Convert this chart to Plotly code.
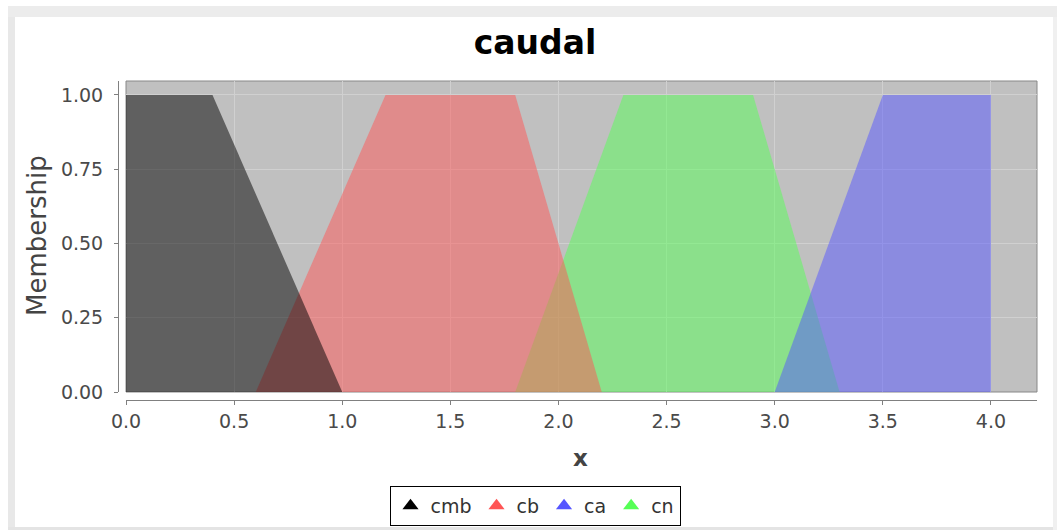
import plotly.graph_objects as go

# Membership functions of the linguistic variable "caudal" (breakpoints x, degree y)
names = ["cmb", "cb", "ca", "cn"]
colors = ["#000000", "#ff5555", "#5555ff", "#55ff55"]
fills = ["rgba(0,0,0,0.5)", "rgba(255,85,85,0.5)", "rgba(85,85,255,0.5)", "rgba(85,255,85,0.5)"]

cmb_x = [0.0, 0.0, 0.4, 1.0]
cmb_y = [0.0, 1.0, 1.0, 0.0]
cb_x = [0.6, 1.2, 1.8, 2.2]
cb_y = [0.0, 1.0, 1.0, 0.0]
ca_x = [3.0, 3.5, 4.0, 4.0]
ca_y = [0.0, 1.0, 1.0, 0.0]
cn_x = [1.8, 2.3, 2.9, 3.3]
cn_y = [0.0, 1.0, 1.0, 0.0]

x_ticks = [0.0, 0.5, 1.0, 1.5, 2.0, 2.5, 3.0, 3.5, 4.0]
y_ticks = [0.0, 0.25, 0.5, 0.75, 1.0]

series = {
    "cmb": (cmb_x, cmb_y),
    "cb": (cb_x, cb_y),
    "ca": (ca_x, ca_y),
    "cn": (cn_x, cn_y),
}

W, H = 1057, 530
# paper region in pixels (axis lines sit a few px outside the data area)
PX0, PX1, PY0, PY1 = 118, 1037, 81, 400


def px(p):
    return (p - PX0) / (PX1 - PX0)


def py(p):
    return (PY1 - p) / (PY1 - PY0)


fig = go.Figure()

# first series ends up on top, so draw in reverse order
for name in reversed(names):
    i = names.index(name)
    xs, ys = series[name]
    fig.add_trace(go.Scatter(
        x=xs, y=ys, fill="toself", fillcolor=fills[i], mode="lines",
        line=dict(width=0, color=fills[i]), showlegend=False, hoverinfo="skip",
    ))

# legend entries
for i, name in enumerate(names):
    fig.add_trace(go.Scatter(
        x=[None], y=[None], mode="markers", name=name, legendrank=i + 1,
        marker=dict(symbol="triangle-up", size=14, color=colors[i]),
    ))

font_family = "DejaVu Sans"
tick_font = dict(family=font_family, size=19, color="#4a4a4a")

fig.update_layout(
    width=W, height=H,
    margin=dict(l=PX0, r=W - PX1, t=PY0, b=H - PY1),
    paper_bgcolor="white",
    plot_bgcolor="white",
    title=dict(
        text="<b>caudal</b>", font=dict(family=font_family, size=33, color="black"),
        x=535 / W, xanchor="center", xref="container",
        y=1 - 42 / H, yanchor="middle", yref="container",
    ),
    xaxis=dict(
        domain=[px(126), 1.0], anchor="free", position=0.0,
        range=[0, 4.213], tickvals=x_ticks, ticktext=[f"{v:.1f}" for v in x_ticks],
        showline=True, linecolor="#808080", linewidth=1,
        ticks="outside", ticklen=4, tickcolor="#808080",
        showgrid=True, gridcolor="#d0d0d0", gridwidth=1, zeroline=False,
        tickfont=tick_font,
    ),
    yaxis=dict(
        domain=[py(392), 1.0], anchor="free", position=0.0,
        range=[0, 1.047], tickvals=y_ticks, ticktext=[f"{v:.2f}" for v in y_ticks],
        showline=True, linecolor="#808080", linewidth=1,
        ticks="outside", ticklen=4, tickcolor="#808080",
        showgrid=True, gridcolor="#d0d0d0", gridwidth=1, zeroline=False,
        tickfont=tick_font, ticklabelstandoff=7,
    ),
    legend=dict(
        orientation="h", x=535 / W, xanchor="center", xref="container",
        y=1 - 486 / H, yanchor="top", yref="container",
        bordercolor="black", borderwidth=1, bgcolor="white",
        font=dict(family=font_family, size=19, color="#333333"),
        itemwidth=30,
    ),
    hovermode=False,
    annotations=[
        dict(text="Membership", x=px(37), y=py(236), xref="paper", yref="paper",
             xanchor="center", yanchor="middle",
             textangle=-90, showarrow=False,
             font=dict(family=font_family, size=26, color="#444444")),
        dict(text="<b>x</b>", x=px(580), y=py(458), xref="paper", yref="paper",
             xanchor="center", yanchor="middle",
             showarrow=False, font=dict(family=font_family, size=23, color="#444444")),
    ],
    shapes=[
        # data area background and border
        dict(type="rect", xref="x domain", yref="y domain", x0=0, x1=1, y0=0, y1=1,
             fillcolor="#c0c0c0", line=dict(color="#888888", width=1), layer="below"),
        # window frame around the chart panel
        dict(type="rect", xref="paper", yref="paper", x0=px(8), x1=px(1057), y0=py(17), y1=py(6),
             fillcolor="#ececec", line=dict(width=0), layer="below"),
        dict(type="rect", xref="paper", yref="paper", x0=px(8), x1=px(15), y0=py(530), y1=py(17),
             fillcolor="#e8e8e8", line=dict(width=0), layer="below"),
        dict(type="rect", xref="paper", yref="paper", x0=px(8), x1=px(1057), y0=py(530), y1=py(527),
             fillcolor="#e4e4e4", line=dict(width=0), layer="below"),
        dict(type="rect", xref="paper", yref="paper", x0=px(1053), x1=px(1057), y0=py(530), y1=py(17),
             fillcolor="#f0f0f0", line=dict(width=0), layer="below"),
    ],
)

fig.write_html("out.html", config={"displayModeBar": False})
